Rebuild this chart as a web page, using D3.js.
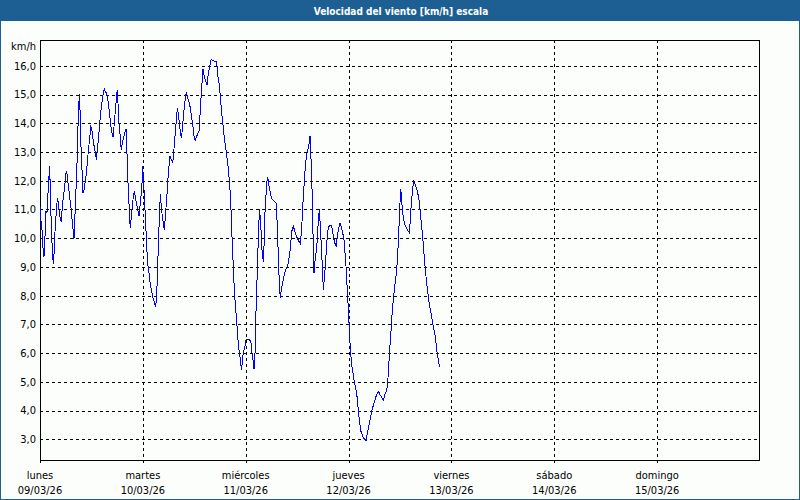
<!DOCTYPE html>
<html><head><meta charset="utf-8">
<script src="https://cdn.jsdelivr.net/npm/d3@7/dist/d3.min.js"></script>
<style>
html,body{margin:0;padding:0;background:#fff;}
svg{display:block;}
text{font-family:"DejaVu Sans Condensed","DejaVu Sans","Liberation Sans",sans-serif;}
</style></head><body>
<svg id="chart" width="800" height="500"></svg>
<script>
const chartTitle = "Velocidad del viento [km/h] escala";
const unitLabel = "km/h";
const dayNames = ["lunes","martes","miércoles","jueves","viernes","sábado","domingo"];
const dayDates = ["09/03/26","10/03/26","11/03/26","12/03/26","13/03/26","14/03/26","15/03/26"];
const dayHours = [0,24,48,72,96,120,144];
const yTicks = [3,4,5,6,7,8,9,10,11,12,13,14,15,16];

// hours since lunes 09/03/26 00:00
const hours = [
0.0,0.23,0.47,0.70,0.93,1.17,1.40,1.63,1.87,2.10,2.26,2.41,2.64,2.88,3.11,3.34,3.58,3.81,4.04,4.28,
4.51,4.74,4.98,5.21,5.44,5.76,5.99,6.14,6.38,6.61,6.84,7.08,7.31,7.54,7.78,7.93,8.09,8.32,8.56,8.71,
8.87,9.02,9.18,9.33,9.49,9.64,9.88,10.03,10.27,10.50,10.73,10.97,11.20,11.43,11.67,11.82,12.06,12.29,12.52,12.76,
12.99,13.14,13.38,13.61,13.84,14.08,14.31,14.54,14.78,15.01,15.24,15.48,15.71,15.94,16.18,16.41,16.64,16.88,17.03,17.27,
17.50,17.73,17.89,18.04,18.20,18.36,18.59,18.82,18.98,19.13,19.37,19.60,19.83,20.07,20.22,20.38,20.53,20.69,20.84,21.08,
21.31,21.54,21.78,22.01,22.24,22.48,22.71,22.95,23.10,23.33,23.57,23.80,24.0,
24.11,24.27,24.42,24.66,24.89,25.12,25.36,25.59,25.82,26.06,26.29,26.52,26.76,26.99,27.22,27.46,27.69,27.92,28.08,28.31,
28.54,28.78,29.01,29.24,29.48,29.71,29.87,30.10,30.26,30.49,30.72,30.96,31.19,31.42,31.66,31.89,32.04,32.28,32.51,32.74,
32.98,33.21,33.44,33.68,33.91,34.14,34.38,34.61,34.84,35.08,35.31,35.54,35.78,36.01,36.24,36.48,36.71,36.94,37.18,37.41,
37.64,37.88,38.03,38.27,38.50,38.73,38.97,39.20,39.43,39.67,39.90,40.13,40.37,40.60,40.83,41.07,41.30,41.53,41.77,42.00,
42.23,42.47,42.70,42.93,43.17,43.40,43.63,43.87,44.10,44.33,44.57,44.80,45.03,45.27,45.50,45.73,45.97,46.20,46.43,46.67,
46.90,47.06,
47.13,47.37,47.60,47.83,48.07,48.30,48.53,48.77,49.00,49.23,49.47,49.70,49.93,50.17,50.32,50.56,50.79,51.02,51.26,51.41,
51.57,51.80,51.96,52.11,52.27,52.42,52.66,52.89,53.04,53.20,53.43,53.67,53.90,54.13,54.37,54.60,54.83,55.07,55.30,55.46,
55.69,55.84,56.08,56.31,56.54,56.78,57.01,57.24,57.48,57.71,57.94,58.18,58.41,58.64,58.88,59.11,59.34,59.58,59.81,60.04,
60.28,60.51,60.74,60.98,61.21,61.44,61.68,61.91,62.14,62.38,62.61,62.84,63.00,63.16,63.31,63.47,63.62,63.78,63.93,64.09,
64.24,64.48,64.71,64.94,65.18,65.41,65.64,65.88,66.03,66.19,66.34,66.58,66.81,67.04,67.28,67.51,67.74,67.98,68.21,68.44,
68.68,68.91,69.14,69.38,69.61,69.84,
70.00,70.23,70.47,70.70,70.93,71.17,71.40,71.63,71.87,72.10,72.33,72.57,72.80,73.03,73.27,73.50,73.73,73.97,74.20,74.43,
74.67,74.90,75.13,75.37,75.60,75.83,76.07,76.30,76.53,76.77,77.00,77.23,77.47,77.70,77.93,78.17,78.40,78.63,78.87,79.10,
79.33,79.64,80.11,80.58,80.89,81.12,81.36,81.59,81.82,82.06,82.29,82.52,82.76,82.99,83.22,83.46,83.61,83.84,84.00,84.16,
84.31,84.54,84.78,85.01,85.24,85.48,85.71,85.94,86.18,86.41,86.64,86.88,87.03,87.19,87.42,87.66,87.89,88.12,88.36,88.59,
88.82,89.06,89.29,89.52,89.76,89.99,90.22,90.46,90.69,90.92,91.16,91.39,91.62,91.86,92.09,92.32,92.55,92.79,93.02,93.18
];

// wind speed, km/h
const speeds = [
11.1,10.6,10.30,9.66,9.35,10.07,10.94,10.88,11.57,12.15,12.52,11.57,10.41,9.55,9.12,9.60,10.53,10.88,11.40,11.23,
10.88,10.70,10.57,11.11,11.40,11.81,12.15,12.35,12.18,11.81,11.57,11.23,10.99,10.53,10.24,9.97,10.53,11.46,12.15,13.08,
13.89,14.53,15.02,14.47,13.54,12.85,12.15,11.57,11.69,11.92,12.15,12.50,12.91,13.25,13.60,13.89,13.83,13.54,13.31,13.08,
12.91,12.73,13.08,13.43,13.83,14.24,14.59,14.82,15.05,15.19,15.11,15.05,14.93,14.70,14.41,14.06,13.78,13.60,13.52,13.89,
14.30,14.70,14.99,15.17,14.70,14.12,13.78,13.31,13.08,13.25,13.43,13.57,13.68,13.80,13.43,12.50,11.92,11.63,10.82,10.36,
10.76,11.11,11.46,11.63,11.46,11.23,11.05,10.88,10.76,11.11,11.46,11.92,12.50,
11.92,11.68,11.22,10.52,9.71,9.13,8.90,8.55,8.32,8.15,7.97,7.86,7.74,7.60,7.97,9.02,10.06,10.99,11.53,11.10,
10.76,10.52,10.29,10.76,11.22,11.68,12.09,12.50,12.87,12.79,12.73,12.61,12.96,13.42,13.83,14.24,14.53,14.35,14.00,13.71,
13.48,13.77,14.24,14.58,14.87,15.08,14.93,14.82,14.70,14.53,14.29,14.06,13.77,13.48,13.42,13.52,13.60,13.68,13.77,14.53,
15.05,15.57,15.88,15.69,15.54,15.45,15.34,15.63,15.86,16.03,16.21,16.21,16.19,16.17,16.15,16.15,16.00,15.63,15.40,15.05,
14.64,14.24,13.95,13.60,13.31,13.08,12.79,12.50,12.15,11.68,10.99,10.06,9.25,8.44,7.86,7.39,6.93,6.46,6.12,5.88,
5.54,5.40,
5.59,5.94,6.12,6.23,6.47,6.49,6.47,6.47,6.44,6.35,6.00,5.77,5.44,6.00,7.10,8.19,9.26,10.42,11.00,10.65,
10.30,9.60,9.37,9.16,9.72,10.65,11.35,11.81,12.14,12.05,11.81,11.64,11.47,11.37,11.33,11.29,11.26,11.23,10.65,9.95,
9.14,8.33,7.92,8.21,8.38,8.56,8.73,8.85,8.97,9.02,9.14,9.37,9.66,10.07,10.36,10.42,10.30,10.19,10.07,10.01,
9.93,9.86,9.81,10.19,10.77,11.47,11.99,12.51,12.80,13.03,13.15,13.33,13.56,13.09,12.40,11.70,10.88,9.49,8.79,9.14,
9.26,9.60,9.95,10.65,11.00,10.42,9.72,9.02,8.50,8.21,8.67,9.02,9.60,10.07,10.40,10.42,10.44,10.44,10.30,10.07,
9.90,9.78,9.74,10.07,10.30,10.42,
10.53,10.42,10.30,10.13,9.95,9.49,9.02,8.38,7.74,7.05,6.35,5.88,5.53,5.30,5.07,4.90,4.72,4.49,4.14,3.79,
3.50,3.27,3.19,3.09,3.03,3.00,2.95,3.15,3.33,3.50,3.67,3.85,4.02,4.14,4.26,4.37,4.49,4.58,4.66,4.63,
4.55,4.49,4.37,4.60,4.72,4.95,5.53,6.12,6.58,7.16,7.63,7.98,8.33,8.56,8.91,9.37,9.95,10.65,11.23,11.72,
11.47,11.00,10.71,10.53,10.42,10.36,10.30,10.24,10.19,10.65,11.23,11.58,11.81,11.98,11.91,11.81,11.72,11.58,11.41,11.12,
10.77,10.42,10.07,9.60,9.14,8.79,8.44,8.15,7.86,7.63,7.45,7.28,7.05,6.87,6.70,6.47,6.12,5.88,5.71,5.53
];

const svg = d3.select("#chart");
const W = 800, H = 500;
const plot = {left: 40, top: 40, right: 760, bottom: 460};
const blue = "#1d5f92";

const x = d3.scaleLinear().domain([0, 168]).range([plot.left, plot.right]);
const y = d3.scaleLinear().domain([2.28, 16.9]).range([plot.bottom, plot.top]);
const fmt = v => d3.format(".1f")(v).replace(".", ",");
const px = v => Math.round(v) + 0.5;

// page background & frame
svg.append("rect").attr("x",0).attr("y",0).attr("width",W).attr("height",H).attr("fill","#fcfefc");
svg.append("rect").attr("x",0).attr("y",0).attr("width",W).attr("height",21).attr("fill",blue);
svg.append("rect").attr("x",0.5).attr("y",0.5).attr("width",W-1).attr("height",H-1)
  .attr("fill","none").attr("stroke",blue).attr("stroke-width",1);
svg.append("text").attr("x",401).attr("y",15).attr("text-anchor","middle")
  .attr("fill","#ffffff").attr("font-weight","bold").attr("font-size","10px").text(chartTitle);

// horizontal grid
svg.append("g").selectAll("line").data(yTicks).join("line")
  .attr("x1",plot.left).attr("x2",plot.right)
  .attr("y1",d=>px(y(d))).attr("y2",d=>px(y(d)))
  .attr("stroke","#000").attr("stroke-dasharray","3,3").attr("shape-rendering","crispEdges");
// vertical grid
svg.append("g").selectAll("line").data(dayHours.slice(1)).join("line")
  .attr("x1",d=>px(x(d))).attr("x2",d=>px(x(d)))
  .attr("y1",plot.top).attr("y2",plot.bottom)
  .attr("stroke","#000").attr("stroke-dasharray","3,3").attr("shape-rendering","crispEdges");

// plot frame
svg.append("rect").attr("x",plot.left+0.5).attr("y",plot.top+0.5)
  .attr("width",plot.right-plot.left-1).attr("height",plot.bottom-plot.top)
  .attr("fill","none").attr("stroke","#000").attr("shape-rendering","crispEdges");

// y labels
svg.append("g").selectAll("text").data(yTicks).join("text")
  .attr("x",36).attr("y",d=>y(d)).attr("dy","0.35em").attr("text-anchor","end")
  .attr("font-size","11px").attr("fill","#000").text(fmt);
svg.append("text").attr("x",36).attr("y",50).attr("text-anchor","end")
  .attr("font-size","11px").attr("fill","#000").text(unitLabel);

// x ticks and labels
svg.append("g").selectAll("line").data(dayHours).join("line")
  .attr("x1",d=>px(x(d))).attr("x2",d=>px(x(d)))
  .attr("y1",plot.bottom).attr("y2",plot.bottom+3)
  .attr("stroke","#000").attr("shape-rendering","crispEdges");
const xl = svg.append("g").selectAll("g").data(dayHours).join("g");
xl.append("text").attr("x",d=>x(d)).attr("y",479).attr("text-anchor","middle")
  .attr("font-size","11px").attr("fill","#000").text((d,i)=>dayNames[i]);
xl.append("text").attr("x",d=>x(d)).attr("y",494).attr("text-anchor","middle")
  .attr("font-size","11px").attr("fill","#000").text((d,i)=>dayDates[i]);

// data line
const pts = hours.map((h,i)=>[h, speeds[i]]);
svg.append("path").datum(pts)
  .attr("d", d3.line().x(d=>x(d[0])).y(d=>y(d[1])))
  .attr("fill","none").attr("stroke","#0000ff").attr("stroke-width",1)
  .attr("shape-rendering","crispEdges");
</script>
</body></html>
